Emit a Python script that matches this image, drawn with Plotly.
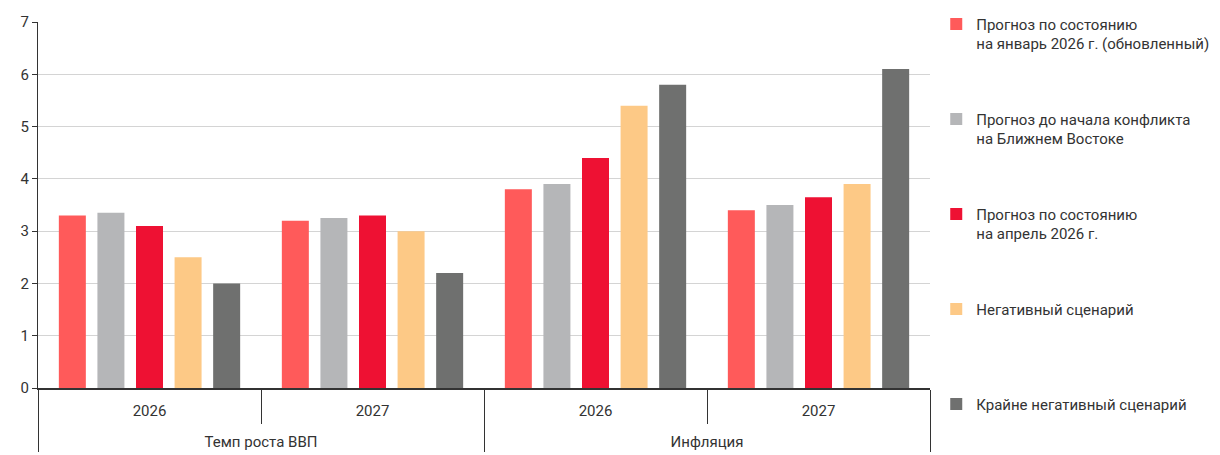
import plotly.graph_objects as go

outer = ["\u00a0<br>Темп роста ВВП", "\u00a0<br>Темп роста ВВП", "\u00a0<br>Инфляция", "\u00a0<br>Инфляция"]
inner = ["2026", "2027", "2026", "2027"]

series_names = [
    "Прогноз по состоянию<br>на январь 2026 г. (обновленный)",
    "Прогноз до начала конфликта<br>на Ближнем Востоке",
    "Прогноз по состоянию<br>на апрель 2026 г.",
    "Негативный сценарий<br>\u00a0",
    "Крайне негативный сценарий<br>\u00a0",
]
jan_updated = [3.3, 3.2, 3.8, 3.4]
pre_conflict = [3.35, 3.25, 3.9, 3.5]
april = [3.1, 3.3, 4.4, 3.65]
negative = [2.5, 3.0, 5.4, 3.9]
extreme = [2.0, 2.2, 5.8, 6.1]

colors = ["#FF5A5A", "#B5B6B8", "#EE1133", "#FDC986", "#6F706F"]

fig = go.Figure()
for i, (name, vals) in enumerate(zip(series_names, [jan_updated, pre_conflict, april, negative, extreme])):
    fig.add_trace(go.Bar(
        x=[outer, inner], y=vals, name=name,
        marker=dict(color=colors[i], line=dict(width=0)),
        legendgroup=str(i),
    ))

# the page adds an 8px body margin, so the figure is 8px smaller and shifted
fig.update_layout(
    width=1212, height=447,
    margin=dict(l=30, r=290, t=14, b=67, autoexpand=False),
    paper_bgcolor="white", plot_bgcolor="white",
    font=dict(family="Roboto", size=15, color="#333333"),
    barmode="group", bargap=0.135, bargroupgap=0.3,
    legend=dict(
        x=1.007, y=1.039, xanchor="left", yanchor="top",
        valign="top", tracegroupgap=53, maxheight=455,
        font=dict(size=15, color="#333333"),
    ),
)
fig.update_yaxes(
    range=[0, 7], dtick=1, showgrid=True, gridcolor="#D4D4D4", gridwidth=1,
    showline=True, linecolor="#333333", linewidth=1, automargin=False,
    ticks="outside", ticklen=5, tickcolor="#333333", zeroline=False,
)
fig.update_xaxes(
    showline=True, linecolor="#333333", linewidth=1.5, automargin=False,
    ticks="outside", tickson="boundaries", ticklen=34, tickcolor="#333333",
    ticklabelstandoff=8,
    showdividers=True, dividercolor="#333333", dividerwidth=1,
)

fig.write_html("out.html")
